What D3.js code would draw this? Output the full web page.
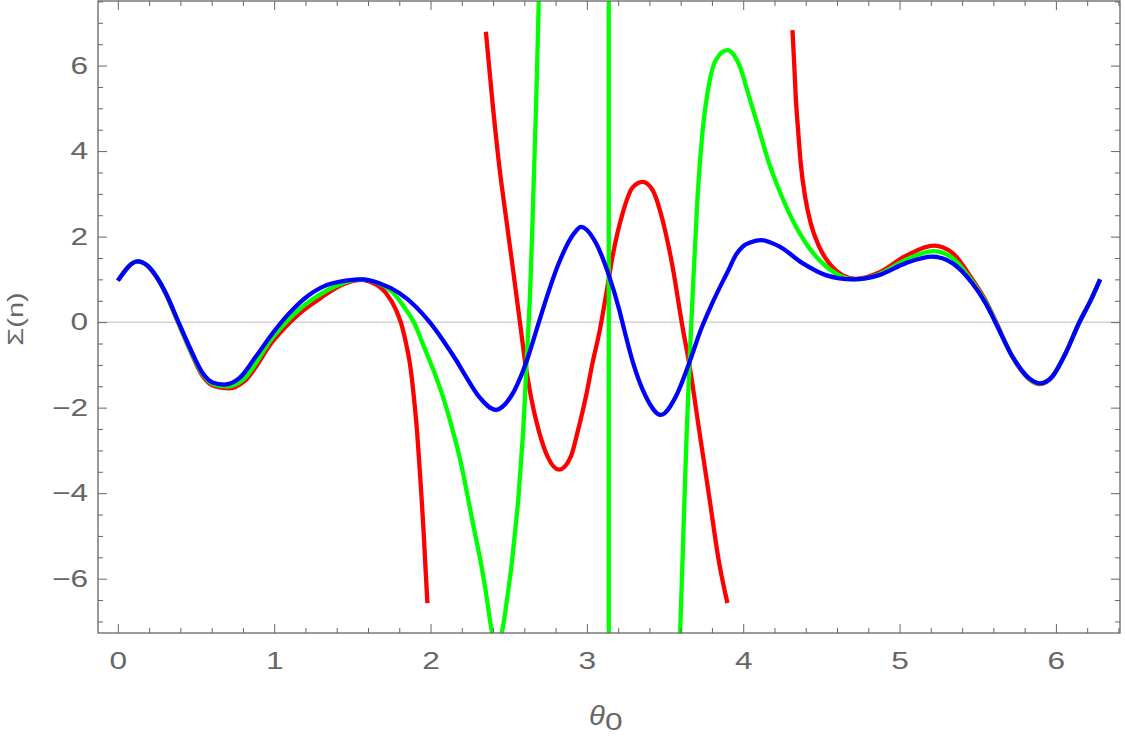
<!DOCTYPE html>
<html>
<head>
<meta charset="utf-8">
<script src="https://cdn.jsdelivr.net/npm/d3@7"></script>
<style>
  body { margin: 0; background: #fff; }
  svg { display: block; }
</style>
</head>
<body>
<svg width="1125" height="738"></svg>
<script>
// tick values and labels
const xMajor = [0, 1, 2, 3, 4, 5, 6];
const xTickLabels = ["0", "1", "2", "3", "4", "5", "6"];
const yMajor = [-6, -4, -2, 0, 2, 4, 6];
const yTickLabels = ["\u22126", "\u22124", "\u22122", "0", "2", "4", "6"];

// [theta0, Sigma(n)], one array per drawn piece
const red1 = [[0,0.97],[0.127,1.42],[0.19,1.31],[0.244,1.07],[0.308,0.65],[0.382,0.02],[0.457,-0.62],[0.542,-1.26],
  [0.620,-1.50],[0.714,-1.55],[0.810,-1.38],[0.990,-0.45],[1.161,0.20],[1.30,0.57],[1.43,0.87],[1.565,0.99],[1.608,0.95],
  [1.715,0.68],[1.779,0.29],[1.811,-0.02],[1.843,-0.49],[1.864,-0.88],[1.879,-1.27],[1.893,-1.74],[1.913,-2.52],
  [1.928,-3.29],[1.942,-4.07],[1.955,-4.85],[1.966,-5.63],[1.980,-6.57]];
const red2 = [[2.354,6.79],[2.395,5.19],[2.440,3.64],[2.482,2.47],[2.525,1.3],[2.567,0.13],[2.578,-0.18],[2.606,-0.96],
  [2.642,-1.74],[2.691,-2.52],[2.748,-3.14],[2.823,-3.45],[2.898,-3.14],[2.944,-2.52],[2.994,-1.74],[3.036,-0.96],
  [3.083,-0.18],[3.128,0.75],[3.165,1.55],[3.229,2.55],[3.293,3.15],[3.356,3.28],[3.420,3.09],[3.484,2.39],[3.548,1.3],
  [3.611,-0.10],[3.654,-0.96],[3.718,-2.52],[3.782,-4.07],[3.846,-5.63],[3.899,-6.57]];
const red3 = [[4.315,6.83],[4.326,6.05],[4.336,5.27],[4.351,4.49],[4.368,3.71],[4.396,2.93],[4.432,2.31],[4.485,1.77],
  [4.549,1.38],[4.634,1.10],[4.719,1.01],[4.869,1.16],[5.040,1.55],[5.220,1.79],[5.338,1.62],[5.465,1.0],[5.551,0.50],
  [5.615,0.02],[5.721,-0.80],[5.828,-1.33],[5.898,-1.45],[5.977,-1.28],[6.063,-0.72],[6.148,-0.02],[6.224,0.52],
  [6.283,1.0]];

const green1 = [[0,0.97],[0.127,1.42],[0.19,1.32],[0.244,1.08],[0.308,0.66],[0.382,0.03],[0.457,-0.60],[0.542,-1.22],
  [0.615,-1.46],[0.700,-1.51],[0.800,-1.35],[0.990,-0.36],[1.161,0.30],[1.30,0.66],[1.43,0.90],[1.565,1.0],[1.629,0.96],
  [1.757,0.70],[1.843,0.29],[1.896,-0.02],[1.949,-0.49],[1.992,-0.88],[2.024,-1.17],[2.077,-1.72],[2.141,-2.52],
  [2.194,-3.29],[2.237,-4.07],[2.279,-4.85],[2.322,-5.63],[2.358,-6.41],[2.390,-7.19],[2.425,-7.6],[2.460,-7.19],
  [2.492,-6.41],[2.520,-5.63],[2.542,-4.85],[2.563,-4.07],[2.578,-3.29],[2.593,-2.52],[2.604,-1.74],[2.614,-0.96],
  [2.625,-0.18],[2.635,0.52],[2.650,2.08],[2.663,3.64],[2.676,5.19],[2.687,6.75],[2.695,7.9]];
const green2 = [[3.14,7.9],[3.14,-7.6]];
const green3 = [[3.590,-7.8],[3.597,-7.19],[3.618,-4.85],[3.639,-2.52],[3.661,-0.57],[3.675,0.52],[3.707,2.86],
  [3.739,4.42],[3.782,5.58],[3.825,6.13],[3.899,6.36],[3.940,6.25],[3.974,6.02],[4.038,5.27],[4.102,4.49],[4.166,3.71],
  [4.230,3.09],[4.315,2.39],[4.400,1.85],[4.506,1.38],[4.613,1.10],[4.709,1.0],[4.869,1.12],[5.040,1.46],[5.220,1.66],
  [5.338,1.50],[5.465,0.95],[5.551,0.47],[5.615,0.0],[5.721,-0.80],[5.828,-1.32],[5.898,-1.44],[5.977,-1.27],
  [6.063,-0.72],[6.148,-0.02],[6.224,0.52],[6.283,1.0]];

const blue1 = [[0,0.97],[0.127,1.42],[0.19,1.32],[0.244,1.08],[0.308,0.67],[0.382,0.05],[0.457,-0.57],[0.542,-1.19],
  [0.606,-1.41],[0.681,-1.46],[0.777,-1.31],[0.884,-0.80],[0.990,-0.26],[1.097,0.21],[1.225,0.64],[1.373,0.91],
  [1.565,1.0],[1.672,0.91],[1.800,0.68],[1.906,0.36],[1.992,0.01],[2.077,-0.41],[2.162,-0.88],[2.226,-1.27],
  [2.311,-1.75],[2.418,-2.05],[2.514,-1.74],[2.610,-0.96],[2.678,-0.18],[2.738,0.52],[2.812,1.30],[2.919,2.08],
  [2.962,2.23],[3.058,1.85],[3.143,1.07],[3.207,0.29],[3.239,-0.18],[3.296,-0.96],[3.377,-1.74],[3.473,-2.17],
  [3.569,-1.74],[3.654,-0.96],[3.729,-0.18],[3.803,0.45],[3.910,1.25],[3.953,1.57],[3.995,1.76],[4.05,1.87],
  [4.113,1.92],[4.230,1.77],[4.379,1.38],[4.528,1.10],[4.700,1.0],[4.869,1.10],[5.040,1.38],[5.210,1.53],[5.338,1.38],
  [5.465,0.91],[5.551,0.44],[5.615,-0.02],[5.721,-0.80],[5.828,-1.31],[5.898,-1.43],[5.977,-1.27],[6.063,-0.72],
  [6.148,-0.02],[6.224,0.52],[6.283,1.0]];

const pieces = [
  {color: "#ff0000", data: red1}, {color: "#ff0000", data: red2}, {color: "#ff0000", data: red3},
  {color: "#00ff00", data: green1}, {color: "#00ff00", data: green2}, {color: "#00ff00", data: green3},
  {color: "#0000ff", data: blue1}
];

const frame = {left: 98, right: 1120, top: 1, bottom: 633};
const axisColor = "#666";
const font = "'Liberation Sans', Arial, sans-serif";
const stretch = 1.32; // the original's glyphs are wider than Liberation Sans

const x = d3.scaleLinear().domain([-0.127, 6.41]).range([frame.left, frame.right]);
const y = d3.scaleLinear().domain([-7.27, 7.51]).range([frame.bottom, frame.top]);

const svg = d3.select("svg");

svg.append("clipPath")
    .attr("id", "plotclip")
  .append("rect")
    .attr("x", frame.left).attr("y", frame.top)
    .attr("width", frame.right - frame.left).attr("height", frame.bottom - frame.top);

// zero line
svg.append("line")
    .attr("x1", frame.left).attr("x2", frame.right)
    .attr("y1", y(0)).attr("y2", y(0))
    .attr("stroke", "#bbb").attr("stroke-width", 1);

const line = d3.line()
    .x(d => x(d[0]))
    .y(d => y(d[1]))
    .curve(d3.curveMonotoneX);

svg.append("g")
    .attr("clip-path", "url(#plotclip)")
  .selectAll("path")
  .data(pieces)
  .join("path")
    .attr("fill", "none")
    .attr("stroke", d => d.color)
    .attr("stroke-width", 4.3)
    .attr("stroke-linejoin", "round")
    .attr("d", d => line(d.data));

// minor ticks (every 0.2 on x, 0.5 on y)
const xMinor = d3.range(0, 6.41, 0.2).filter(v => Math.abs(v - Math.round(v)) > 1e-6);
const yMinor = d3.range(-7, 7.51, 0.5).filter(v => Math.abs(v / 2 - Math.round(v / 2)) > 1e-6);

function styleAxis(g) {
  g.attr("color", axisColor).attr("font-family", font).attr("font-size", 24);
  g.select(".domain").remove();
  g.selectAll(".tick line").attr("stroke-width", 1);
}

// bottom
svg.append("g").attr("transform", `translate(0,${frame.bottom})`)
    .call(d3.axisBottom(x).tickValues(xMajor).tickSize(-9).tickPadding(19)
      .tickFormat((d, i) => xTickLabels[i]))
    .call(styleAxis)
    .call(g => g.selectAll(".tick text").attr("transform", `scale(${stretch},1)`));
svg.append("g").attr("transform", `translate(0,${frame.bottom})`)
    .call(d3.axisBottom(x).tickValues(xMinor).tickSize(-5).tickFormat(""))
    .call(styleAxis);
// top
svg.append("g").attr("transform", `translate(0,${frame.top})`)
    .call(d3.axisTop(x).tickValues(xMajor).tickSize(-9).tickFormat(""))
    .call(styleAxis);
svg.append("g").attr("transform", `translate(0,${frame.top})`)
    .call(d3.axisTop(x).tickValues(xMinor).tickSize(-5).tickFormat(""))
    .call(styleAxis);
// left
svg.append("g").attr("transform", `translate(${frame.left},0)`)
    .call(d3.axisLeft(y).tickValues(yMajor).tickSize(-9)
      .tickFormat((d, i) => yTickLabels[i]))
    .call(styleAxis)
    .call(g => g.selectAll(".tick text")
      .attr("x", -10 / stretch)
      .attr("transform", `scale(${stretch},1)`));
svg.append("g").attr("transform", `translate(${frame.left},0)`)
    .call(d3.axisLeft(y).tickValues(yMinor).tickSize(-5).tickFormat(""))
    .call(styleAxis);
// right
svg.append("g").attr("transform", `translate(${frame.right},0)`)
    .call(d3.axisRight(y).tickValues(yMajor).tickSize(-9).tickFormat(""))
    .call(styleAxis);
svg.append("g").attr("transform", `translate(${frame.right},0)`)
    .call(d3.axisRight(y).tickValues(yMinor).tickSize(-5).tickFormat(""))
    .call(styleAxis);

// frame
svg.append("rect")
    .attr("x", frame.left).attr("y", frame.top)
    .attr("width", frame.right - frame.left).attr("height", frame.bottom - frame.top)
    .attr("fill", "none").attr("stroke", axisColor).attr("stroke-width", 1.3);

// axis labels
svg.append("text")
    .attr("transform", "translate(589,725) scale(1.08,1)")
    .attr("font-family", font).attr("font-size", 27).attr("font-style", "italic")
    .attr("fill", axisColor)
    .text("\u03b8");
svg.append("text")
    .attr("transform", `translate(605,730) scale(${stretch},1)`)
    .attr("font-family", font).attr("font-size", 24)
    .attr("fill", axisColor)
    .text("0");

svg.append("text")
    .attr("transform", `translate(23,319) rotate(-90) scale(${stretch},1)`)
    .attr("text-anchor", "middle")
    .attr("font-family", font).attr("font-size", 22)
    .attr("fill", axisColor)
    .text("\u03a3(n)");
</script>
</body>
</html>
